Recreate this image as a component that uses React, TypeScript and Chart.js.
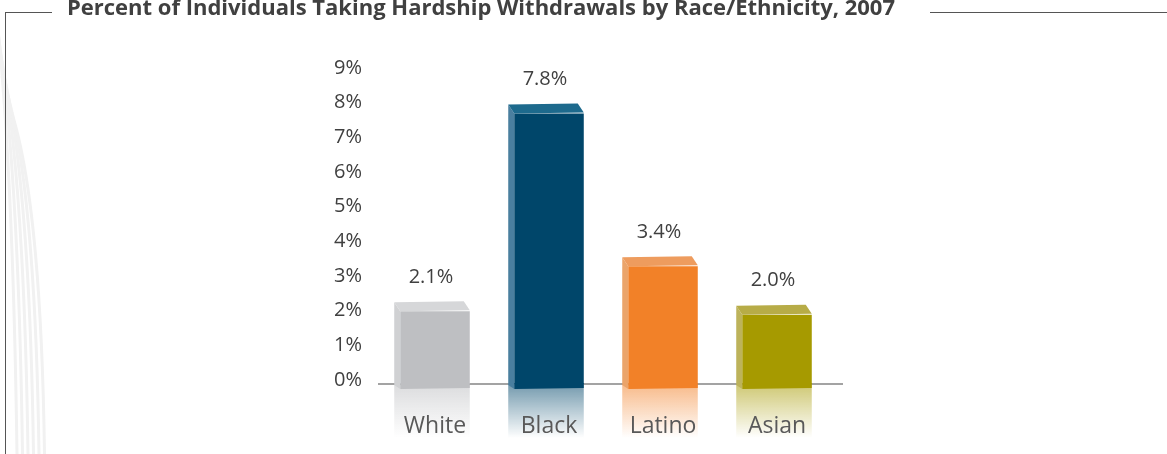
import React, { useEffect, useRef } from "react";
import { Chart, registerables } from "chart.js";

Chart.register(...registerables);

const TITLE = "Percent of Individuals Taking Hardship Withdrawals by Race/Ethnicity, 2007";
const categories = ["White", "Black", "Latino", "Asian"];
const values = [2.1, 7.8, 3.4, 2.0];
const valueLabels = ["2.1%", "7.8%", "3.4%", "2.0%"];
const yMin = 0;
const yMax = 9;
const yStep = 1;

const frontColors = ["#BEBFC2", "#00466A", "#F28128", "#A69A00"];
const sideColors = ["#D0D1D3", "#4A7F9F", "#EBA46A", "#BDB35B"];
const topColors = ["#D6D7D9", "#1D6A8D", "#EE9C5E", "#B7AC47"];

const DEPTH_X = 6;
const DEPTH_Y = 9;
const BELOW = 5;

function rgba(hex: string, a: number) {
  const n = parseInt(hex.slice(1), 16);
  return `rgba(${(n >> 16) & 255},${(n >> 8) & 255},${n & 255},${a})`;
}

const bar3d = {
  id: "bar3d",
  beforeDraw(chart: any) {
    const ctx = chart.ctx;
    const meta = chart.getDatasetMeta(0);
    ctx.save();
    meta.data.forEach((el: any, i: number) => {
      const { x, base, width } = el.getProps(["x", "base", "width"], true);
      const left = x - width / 2 - DEPTH_X;
      const right = x + width / 2;
      const h = 54;
      const g = ctx.createLinearGradient(0, base, 0, base + h);
      g.addColorStop(0, rgba(frontColors[i], 0.55));
      g.addColorStop(1, rgba(frontColors[i], 0));
      ctx.fillStyle = g;
      ctx.fillRect(left, base, right - left, h);
    });
    ctx.restore();
  },
  beforeDatasetsDraw(chart: any) {
    const ctx = chart.ctx;
    const y0 = chart.scales.y.getPixelForValue(0);
    ctx.save();
    ctx.strokeStyle = "#858585";
    ctx.lineWidth = 1.5;
    ctx.beginPath();
    ctx.moveTo(chart.chartArea.left, y0);
    ctx.lineTo(chart.chartArea.right + 9, y0);
    ctx.stroke();
    ctx.restore();
  },
  afterDatasetsDraw(chart: any) {
    const ctx = chart.ctx;
    const meta = chart.getDatasetMeta(0);
    ctx.save();
    meta.data.forEach((el: any, i: number) => {
      const { x, y, base, width } = el.getProps(["x", "y", "base", "width"], true);
      const left = x - width / 2;
      const right = x + width / 2;
      ctx.fillStyle = frontColors[i];
      ctx.beginPath();
      ctx.moveTo(left, base - 1);
      ctx.lineTo(right, base - 1);
      ctx.lineTo(right, base + BELOW - 1);
      ctx.lineTo(left, base + BELOW);
      ctx.closePath();
      ctx.fill();
      ctx.fillStyle = sideColors[i];
      ctx.beginPath();
      ctx.moveTo(left, y);
      ctx.lineTo(left - DEPTH_X, y - DEPTH_Y);
      ctx.lineTo(left - DEPTH_X, base + 1);
      ctx.lineTo(left, base + BELOW);
      ctx.closePath();
      ctx.fill();
      ctx.fillStyle = topColors[i];
      ctx.beginPath();
      ctx.moveTo(left, y);
      ctx.lineTo(left - DEPTH_X, y - DEPTH_Y);
      ctx.lineTo(right - DEPTH_X, y - DEPTH_Y - 1);
      ctx.lineTo(right, y - 1);
      ctx.closePath();
      ctx.fill();
      ctx.fillStyle = "#404040";
      ctx.font = "20px 'Open Sans'";
      ctx.textAlign = "center";
      ctx.textBaseline = "middle";
      ctx.fillText(valueLabels[i], x - DEPTH_X / 2 - 1, y - DEPTH_Y - 25);
    });
    ctx.restore();
  },
};

function Decor() {
  const paths = [0, 1, 2, 3, 4, 5].map((i) => {
    const x0 = -3 + i * 1.2;
    const y0 = 20 + i * 14;
    const x1 = 17 + i * 5.5;
    return `M ${x0} ${y0} Q ${x1 - 4} 170 ${x1} 454`;
  });
  return (
    <svg width={60} height={454} style={{ position: "absolute", left: 0, top: 0 }}>
      {paths.map((d, i) => (
        <path key={i} d={d} fill="none" stroke="#F1F1F1" strokeWidth={3} />
      ))}
    </svg>
  );
}

export default function App() {
  const ref = useRef<HTMLCanvasElement | null>(null);

  useEffect(() => {
    if (!ref.current) return;
    const chart = new Chart(ref.current, {
      type: "bar",
      data: {
        labels: categories,
        datasets: [
          {
            data: values,
            backgroundColor: frontColors,
            borderWidth: 0,
            categoryPercentage: 1,
            barPercentage: 0.61,
          },
        ],
      },
      plugins: [bar3d],
      options: {
        animation: false,
        responsive: false,
        maintainAspectRatio: false,
        layout: { padding: { left: 0, right: 333, top: 72, bottom: 0 } },
        plugins: {
          legend: { display: false },
          tooltip: { enabled: false },
          title: { display: false },
        },
        scales: {
          x: {
            grid: { display: false, drawTicks: false },
            border: { display: false },
            ticks: {
              color: "#595959",
              font: { family: "'Open Sans'", size: 23 },
              padding: 29,
            },
            afterFit: (s: any) => {
              s.height = 70;
            },
          },
          y: {
            min: yMin,
            max: yMax,
            grid: { display: false, drawTicks: false },
            border: { display: false },
            ticks: {
              stepSize: yStep,
              color: "#404040",
              font: { family: "'Open Sans'", size: 20 },
              padding: 16,
              labelOffset: -4,
              callback: (v: any) => `${v}%`,
            },
            afterFit: (s: any) => {
              s.width = 378;
            },
          },
        },
      },
    });
    return () => chart.destroy();
  }, []);

  return (
    <div
      style={{
        position: "absolute",
        left: 0,
        top: 0,
        width: 1167,
        height: 454,
        overflow: "hidden",
        background: "#ffffff",
      }}
    >
      <Decor />
      <canvas ref={ref} width={1167} height={454} style={{ position: "absolute", left: 0, top: 0 }} />
      <div style={{ position: "absolute", left: 5, top: 12, width: 1, height: 442, background: "#555" }} />
      <div style={{ position: "absolute", left: 5, top: 12, width: 47, height: 1, background: "#555" }} />
      <div style={{ position: "absolute", left: 930, top: 12, width: 237, height: 1, background: "#555" }} />
      <div
        style={{
          position: "absolute",
          left: 67,
          top: -5,
          fontFamily: "'Open Sans'",
          fontWeight: 700,
          fontSize: 22,
          lineHeight: "22px",
          color: "#404040",
          whiteSpace: "nowrap",
        }}
      >
        {TITLE}
      </div>
    </div>
  );
}
